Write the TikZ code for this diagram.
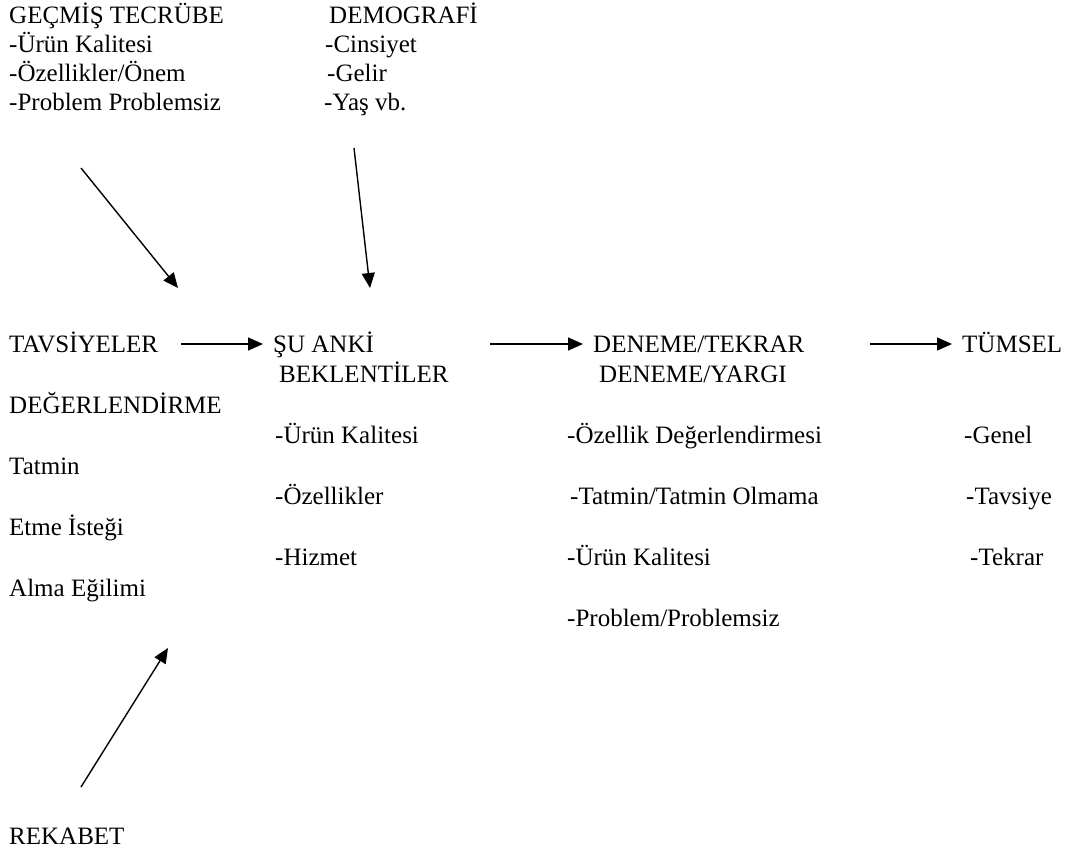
\documentclass[tikz,border=0pt]{standalone}
\usepackage{fontspec}
\setmainfont{Liberation Serif}
\usetikzlibrary{arrows.meta}
\begin{document}
\begin{tikzpicture}[x=1pt,y=-1pt,
  txt/.style={anchor=base west,inner sep=0pt,font=\fontsize{25}{29}\selectfont},
  arr/.style={line width=1.4pt,-{Triangle[length=15pt,width=13pt]}}]
\useasboundingbox (0,0) rectangle (1083,852);
% past experience
\node[txt] (gt)  at (9,23)   {GEÇMİŞ TECRÜBE};
\node[txt] (gt1) at (9,52)   {-Ürün Kalitesi};
\node[txt] (gt2) at (9,81)   {-Özellikler/Önem};
\node[txt] (gt3) at (9,110)  {-Problem Problemsiz};
% demographics
\node[txt] (dm)  at (329,23)  {DEMOGRAFİ};
\node[txt] (dm1) at (325,52)  {-Cinsiyet};
\node[txt] (dm2) at (327,81)  {-Gelir};
\node[txt] (dm3) at (324,110) {-Yaş vb.};
% left column
\node[txt] (tav) at (9,352)   {TAVSİYELER};
\node[txt] (deg) at (9,413)   {DEĞERLENDİRME};
\node[txt] (tat) at (9,474)   {Tatmin};
\node[txt] (etm) at (9,535)   {Etme İsteği};
\node[txt] (alm) at (9,596)   {Alma Eğilimi};
\node[txt] (rek) at (9,844)   {REKABET};
% current expectations
\node[txt] (su)  at (273,352) {ŞU ANKİ};
\node[txt] (bek) at (279,382) {BEKLENTİLER};
\node[txt] (su1) at (275,443) {-Ürün Kalitesi};
\node[txt] (su2) at (275,504) {-Özellikler};
\node[txt] (su3) at (275,565) {-Hizmet};
% trial
\node[txt] (dn)  at (593,352) {DENEME/TEKRAR};
\node[txt] (dny) at (599,382) {DENEME/YARGI};
\node[txt] (dn1) at (567,443) {-Özellik Değerlendirmesi};
\node[txt] (dn2) at (570,504) {-Tatmin/Tatmin Olmama};
\node[txt] (dn3) at (567,565) {-Ürün Kalitesi};
\node[txt] (dn4) at (567,626) {-Problem/Problemsiz};
% overall
\node[txt] (tm)  at (962,352) {TÜMSEL};
\node[txt] (tm1) at (964,443) {-Genel};
\node[txt] (tm2) at (966,504) {-Tavsiye};
\node[txt] (tm3) at (970,565) {-Tekrar};
% arrow end points
\coordinate (p1s) at (81,168);  \coordinate (p1e) at (178,288);
\coordinate (p2s) at (354,148); \coordinate (p2e) at (370,288);
\coordinate (p3s) at (81,787);  \coordinate (p3e) at (168,648);
\coordinate (h1s) at (181,344); \coordinate (h1e) at (263,344);
\coordinate (h2s) at (490,344); \coordinate (h2e) at (583,344);
\coordinate (h3s) at (870,344); \coordinate (h3e) at (952,344);
\draw[arr] (p1s) -- (p1e);
\draw[arr] (p2s) -- (p2e);
\draw[arr] (p3s) -- (p3e);
\draw[arr] (h1s) -- (h1e);
\draw[arr] (h2s) -- (h2e);
\draw[arr] (h3s) -- (h3e);
\end{tikzpicture}
\end{document}
